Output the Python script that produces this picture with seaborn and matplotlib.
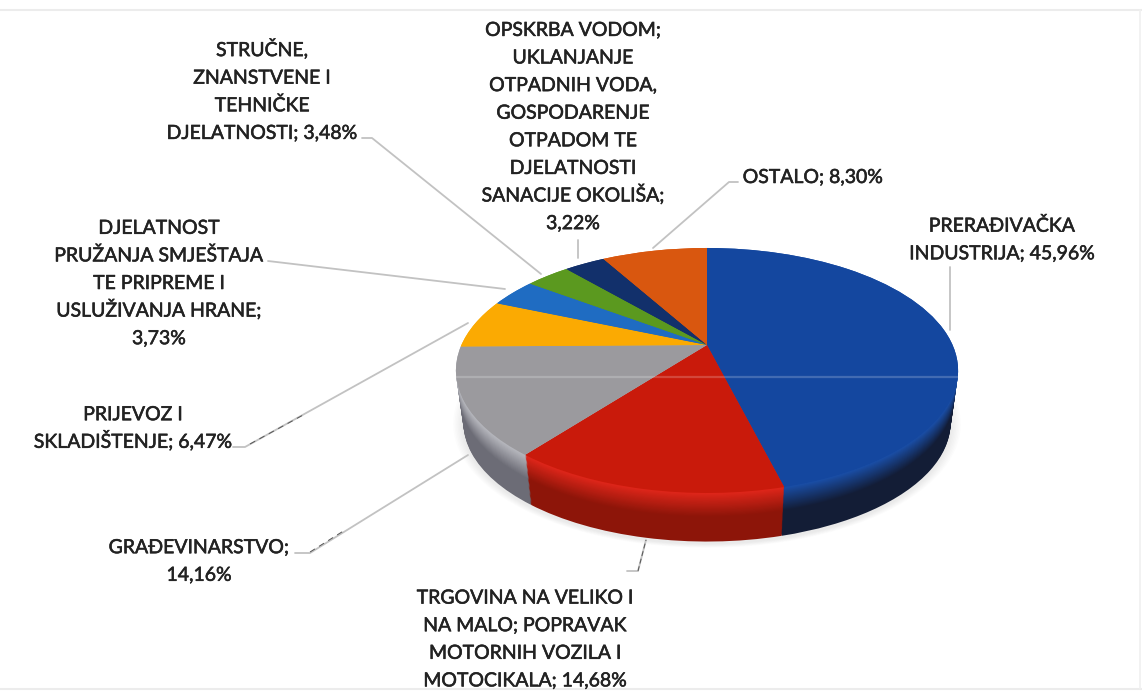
"""
3D look pie of business sectors, drawn with ax.pie layers under a perspective transform.
"""

import matplotlib
matplotlib.use('Agg')
import matplotlib.pyplot as plt
import matplotlib.patheffects as pe
import numpy as np
import seaborn as sns
from matplotlib.transforms import Transform

# slice values, clockwise from 12 o'clock
values = [45.96, 14.68, 14.16, 6.47, 3.73, 3.48, 3.22, 8.30]

label_templates = [
    "PRERAĐIVAČKA\nINDUSTRIJA; {}",
    "TRGOVINA NA VELIKO I\nNA MALO; POPRAVAK\nMOTORNIH VOZILA I\nMOTOCIKALA; {}",
    "GRAĐEVINARSTVO;\n{}",
    "PRIJEVOZ I\nSKLADIŠTENJE; {}",
    "DJELATNOST\nPRUŽANJA SMJEŠTAJA\nTE PRIPREME I\nUSLUŽIVANJA HRANE;\n{}",
    "STRUČNE,\nZNANSTVENE I\nTEHNIČKE\nDJELATNOSTI; {}",
    "OPSKRBA VODOM;\nUKLANJANJE\nOTPADNIH VODA,\nGOSPODARENJE\nOTPADOM TE\nDJELATNOSTI\nSANACIJE OKOLIŠA;\n{}",
    "OSTALO; {}",
]

top_colors = ['#14479f', '#c91a0b', '#9b9a9e', '#fbaa02', '#1f6cc2', '#5b991f', '#12306b', '#d9570f']
rim_colors = ['#1a4fa8', '#e0261a', '#b8b9bf', '#fbaa02', '#1f6cc2', '#5b991f', '#12306b', '#d9570f']
wall_colors = ['#131d36', '#8d1509', '#6c6c76', '#a87000', '#124a88', '#3c6a12', '#0b1f46', '#93390a']

# label centres in pixels
label_x = [1002, 525, 199, 133, 159, 262, 573, 813]
label_y = [238.5, 638, 560, 427, 282, 90.5, 125.5, 176]

# leader lines in pixels, one polyline per label
leader_x = [[950, 950], [627, 638, 646], [295, 310, 468], [233, 245, 468], [268, 505], [362, 372, 541], [578, 578], [738, 729, 653]]
leader_y = [[267, 330], [571, 571, 540], [553, 553, 455], [447, 447, 323], [261, 289], [138, 138, 274], [240, 258], [182, 182, 248]]

LINE_STEP = 27.6
WIDTH, HEIGHT = 1142, 693


class PerspectiveDisk(Transform):
    """Projects the unit disk of the pie on to a tilted plane, output in pixels."""
    input_dims = 2
    output_dims = 2

    def __init__(self, cx, cy, a, b, k):
        super().__init__()
        self.cx, self.cy, self.a, self.b, self.k = cx, cy, a, b, k

    def transform_non_affine(self, values):
        xy = np.asarray(values, dtype=float)
        w = 1 + self.k * xy[:, 1]
        return np.column_stack([self.cx + self.a * xy[:, 0] / w, self.cy - self.b * xy[:, 1] / w])


sns.set_theme(style='white')
plt.rcParams['font.family'] = ['Lato', 'DejaVu Sans']

fig, ax = plt.subplots(figsize=(WIDTH / 100, HEIGHT / 100), dpi=100)
fig.subplots_adjust(left=0, right=1, bottom=0, top=1)


def draw_pie(colors, scale, drop, alpha=None):
    wedges, _ = ax.pie(values, colors=colors, startangle=90, counterclock=False,
                       wedgeprops=dict(linewidth=0, alpha=alpha))
    trans = PerspectiveDisk(707, 345 + drop, 245.6 * scale, 117.2 * scale, 0.208) + ax.transData
    for w in wedges:
        w.set_transform(trans)


# soft shadow under the body
for i in range(7):
    draw_pie(['#000000'] * len(values), 0.975 + 0.006 * i, 55 - i * 0.3, alpha=0.012)

# side wall, from the bottom layer up
n_layers = 44
ramps = [sns.blend_palette([r, w, w], n_layers) for r, w in zip(rim_colors, wall_colors)]
for i in range(n_layers - 1, -1, -1):
    t = i / (n_layers - 1)
    draw_pie([r[i] for r in ramps], 1 - 0.03 * t, 53 * t)

# top face
draw_pie(top_colors, 1, 0)

# pale scan streak across the face
ax.plot([455, 959], [377, 377], color='white', alpha=0.2, linewidth=1.6, solid_capstyle='butt')

# leaders
for xs, ys in zip(leader_x, leader_y):
    ax.plot(xs, ys, color='#c2c2c2', linewidth=1.3, solid_joinstyle='round')
ax.plot([250, 305], [444, 414], color='#555555', linewidth=0.7, linestyle=(0, (6, 5)))
ax.plot([310, 345], [552, 530], color='#555555', linewidth=0.7, linestyle=(0, (6, 5)))
ax.plot([638, 646], [571, 540], color='#555555', linewidth=0.7, linestyle=(0, (5, 3)))

# labels, one text per row so the rows stay evenly spaced
stroke = [pe.withStroke(linewidth=0.4, foreground='#222222')]
for tpl, v, x, y in zip(label_templates, values, label_x, label_y):
    rows = tpl.format(f"{v:.2f}%".replace('.', ',')).split('\n')
    for i, row in enumerate(rows):
        row_y = y + (i - (len(rows) - 1) / 2) * LINE_STEP
        ax.text(x, row_y + 7, row, ha='center', va='baseline', fontsize=14,
                color='#222222', path_effects=stroke)

# faint page edges of the scan
ax.plot([0, WIDTH], [10, 10], color='#ececec', linewidth=1.5)
ax.plot([0, WIDTH], [689, 689], color='#ececec', linewidth=1.5)
ax.plot([1140, 1140], [10, 689], color='#f0f0f0', linewidth=1.2)

ax.set_aspect('auto')
ax.set_xlim(0, WIDTH)
ax.set_ylim(HEIGHT, 0)
ax.axis('off')

fig.savefig('out.png', dpi=100)
plt.close(fig)
